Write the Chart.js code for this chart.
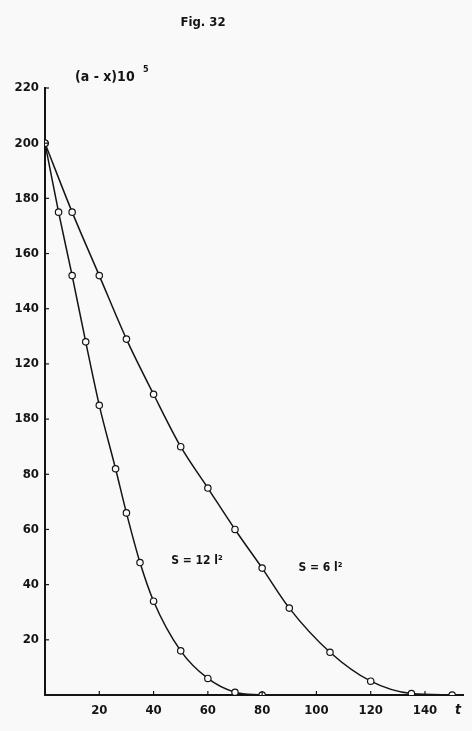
<!DOCTYPE html>
<html>
<head>
<meta charset="utf-8">
<title>Fig. 32</title>
<script src="https://cdn.jsdelivr.net/npm/chart.js@4.4.0/dist/chart.umd.min.js"></script>
<style>
  html, body { margin: 0; padding: 0; background: #f9f9f9; }
  #wrap { width: 472px; height: 731px; }
</style>
</head>
<body>
<div id="wrap"><canvas id="fig"></canvas></div>
<script>
// Data: t (time) against (a-x)*10^5
const t12 = [0, 5, 10, 15, 20, 26, 30, 35, 40, 50, 60, 70, 80];
const y12 = [200, 175, 152, 128, 105, 82, 66, 48, 34, 16, 6, 1, 0];

const t6 = [0, 10, 20, 30, 40, 50, 60, 70, 80, 90, 105, 120, 135, 150];
const y6 = [200, 175, 152, 129, 109, 90, 75, 60, 46, 31.5, 15.5, 5, 0.5, 0];

const xTickValues = [20, 40, 60, 80, 100, 120, 140];
const xTickLabels = ['20', '40', '60', '80', '100', '120', '140'];
const yTickValues = [20, 40, 60, 80, 100, 120, 140, 160, 180, 200, 220];
// the scan prints the 100 mark as "180"
const yTickLabels = ['20', '40', '60', '80', '180', '120', '140', '160', '180', '200', '220'];

const FONT = '"DejaVu Sans Condensed", "DejaVu Sans", sans-serif';
const INK = '#141414';

function toPoints(xs, ys){
  return xs.map((x, i) => ({ x: x, y: ys[i] }));
}

// titles, curve names and the little inside tick marks
const annotations = {
  id: 'annotations',
  afterDraw(chart){
    const ctx = chart.ctx;
    const xs = chart.scales.x, ys = chart.scales.y;
    const area = chart.chartArea;
    ctx.save();
    ctx.strokeStyle = INK;
    ctx.lineWidth = 1.2;
    // small ticks pointing into the plot
    yTickValues.forEach(v => {
      const py = ys.getPixelForValue(v);
      ctx.beginPath();
      ctx.moveTo(area.left, py);
      ctx.lineTo(area.left + 4, py);
      ctx.stroke();
    });
    xTickValues.forEach(v => {
      const px = xs.getPixelForValue(v);
      ctx.beginPath();
      ctx.moveTo(px, area.bottom);
      ctx.lineTo(px, area.bottom - 4);
      ctx.stroke();
    });

    ctx.fillStyle = INK;
    ctx.textBaseline = 'middle';
    ctx.textAlign = 'center';
    ctx.font = 'bold 13px ' + FONT;
    ctx.fillText('Fig. 32', 203, 23);

    ctx.textAlign = 'left';
    ctx.font = 'bold 14px ' + FONT;
    ctx.fillText('(a - x)10', 75, 77);
    ctx.font = 'bold 9px ' + FONT;
    ctx.fillText('5', 143, 70);

    // curve names, placed in data space
    ctx.textAlign = 'center';
    ctx.font = 'bold 12px ' + FONT;
    ctx.fillText('S = 12 l²', xs.getPixelForValue(56), ys.getPixelForValue(48.5));
    ctx.fillText('S = 6 l²', xs.getPixelForValue(101.5), ys.getPixelForValue(46));

    ctx.font = 'italic bold 14px ' + FONT;
    ctx.fillText('t', 458, 710);
    ctx.restore();
  }
};

const lineStyle = {
  borderColor: INK,
  borderWidth: 1.5,
  pointRadius: 3.2,
  pointBorderWidth: 1.2,
  pointBackgroundColor: '#fbfbfb',
  pointBorderColor: INK,
  cubicInterpolationMode: 'monotone',
  fill: false
};

new Chart(document.getElementById('fig'), {
  type: 'line',
  data: {
    datasets: [
      Object.assign({ label: 'S = 12 l²', data: toPoints(t12, y12) }, lineStyle),
      Object.assign({ label: 'S = 6 l²', data: toPoints(t6, y6) }, lineStyle)
    ]
  },
  options: {
    responsive: true,
    maintainAspectRatio: false,
    animation: false,
    layout: { padding: { top: 88, right: 9, left: 0, bottom: 0 } },
    plugins: {
      legend: { display: false },
      tooltip: { enabled: false }
    },
    scales: {
      x: {
        type: 'linear',
        min: 0,
        max: 154,
        grid: { display: false, tickLength: 0 },
        border: { display: true, color: INK, width: 2 },
        afterBuildTicks: s => { s.ticks = xTickValues.map(v => ({ value: v })); },
        afterFit: s => { s.height = 36; },
        ticks: {
          color: INK,
          padding: 8,
          maxRotation: 0,
          font: { family: FONT, size: 13, weight: 'bold' },
          callback: v => xTickLabels[xTickValues.indexOf(v)]
        }
      },
      y: {
        type: 'linear',
        min: 0,
        max: 220,
        grid: { display: false, tickLength: 0 },
        border: { display: true, color: INK, width: 2 },
        afterBuildTicks: s => { s.ticks = yTickValues.map(v => ({ value: v })); },
        afterFit: s => { s.width = 45; },
        ticks: {
          color: INK,
          padding: 6,
          font: { family: FONT, size: 13, weight: 'bold' },
          callback: v => yTickLabels[yTickValues.indexOf(v)]
        }
      }
    }
  },
  plugins: [annotations]
});
</script>
</body>
</html>
